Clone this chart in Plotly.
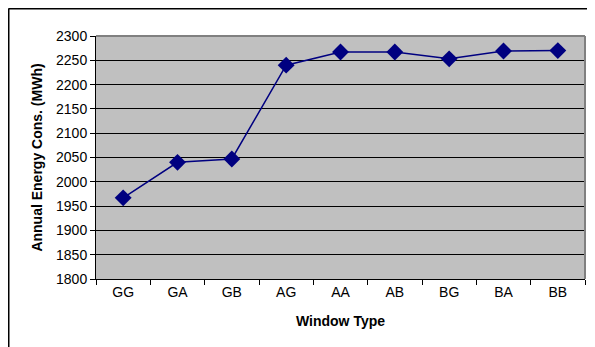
import plotly.graph_objects as go

categories = ["GG", "GA", "GB", "AG", "AA", "AB", "BG", "BA", "BB"]
energy = [1967, 2040, 2047, 2240, 2267, 2267, 2253, 2269, 2270]
y_ticks = [1800, 1850, 1900, 1950, 2000, 2050, 2100, 2150, 2200, 2250, 2300]

# page body has an 8px default margin; figure coordinates are offset by it
OFF = 8
W, H = 595, 347
L, T = 96 - OFF, 36 - OFF
pw, ph = 489, 243
R = W - L - pw
B = H - T - ph

fig = go.Figure()
fig.add_trace(go.Scatter(
    x=categories, y=energy, mode="lines+markers",
    line=dict(color="#000080", width=1.5),
    marker=dict(symbol="diamond", size=13, color="#000080"),
    cliponaxis=False,
))

def px_x(p):
    return (p - OFF - L) / pw

def px_y(p):
    return 1 - (p - OFF - T) / ph

fig.update_layout(
    width=W, height=H,
    margin=dict(l=L, r=R, t=T, b=B, autoexpand=False),
    paper_bgcolor="white",
    plot_bgcolor="#C0C0C0",
    showlegend=False,
    font=dict(family="Arial, Liberation Sans, sans-serif", color="black", size=14),
    xaxis=dict(
        type="category", range=[-0.5, 8.5], automargin=False,
        tickson="boundaries", ticks="outside", ticklen=5, tickcolor="black",
        showline=True, linecolor="black", linewidth=1,
        showgrid=False, tickfont=dict(size=14),
        title=dict(text="<b>Window Type</b>", font=dict(size=14), standoff=17),
    ),
    yaxis=dict(
        range=[1800, 2300], tickmode="array", tickvals=y_ticks, automargin=False,
        ticks="outside", ticklen=5, tickcolor="black",
        showline=True, linecolor="black", linewidth=1,
        showgrid=True, gridcolor="black", gridwidth=1,
        zeroline=False, tickfont=dict(size=14),
        title=dict(text="<b>Annual Energy Cons. (MWh)</b>", font=dict(size=14), standoff=10),
    ),
    shapes=[
        dict(type="line", xref="paper", yref="paper", x0=0, x1=1, y0=1, y1=1,
             line=dict(color="#808080", width=2), layer="above"),
        dict(type="line", xref="paper", yref="paper", x0=1, x1=1, y0=0, y1=1,
             line=dict(color="#808080", width=2), layer="above"),
        dict(type="line", xref="paper", yref="paper",
             x0=px_x(8.5), x1=px_x(610), y0=px_y(8.5), y1=px_y(8.5),
             line=dict(color="black", width=2)),
        dict(type="line", xref="paper", yref="paper",
             x0=px_x(8.5), x1=px_x(8.5), y0=px_y(8.5), y1=px_y(360),
             line=dict(color="black", width=2)),
    ],
)

fig.write_html("out.html")
